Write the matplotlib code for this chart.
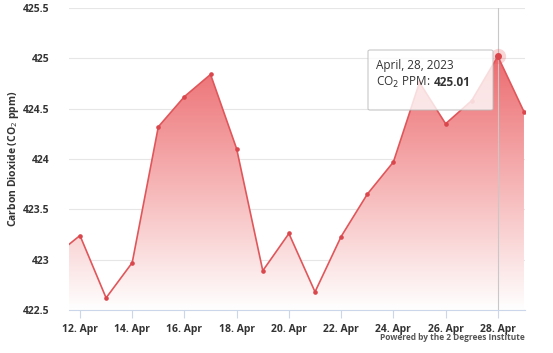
import numpy as np
import matplotlib.pyplot as plt
from matplotlib.colors import LinearSegmentedColormap
from matplotlib.patches import FancyBboxPatch

# daily CO2 readings, April 2023 (day of month)
days = [11, 12, 13, 14, 15, 16, 17, 18, 19, 20, 21, 22, 23, 24, 25, 26, 27, 28, 29]
ppm = [423.03, 423.24, 422.62, 422.97, 424.32, 424.62, 424.84, 424.10, 422.89,
       423.26, 422.68, 423.23, 423.65, 423.97, 424.76, 424.35, 424.58, 425.02, 424.47]
tick_days = [12, 14, 16, 18, 20, 22, 24, 26, 28]
tick_labels = ["12. Apr", "14. Apr", "16. Apr", "18. Apr", "20. Apr",
               "22. Apr", "24. Apr", "26. Apr", "28. Apr"]
y_ticks = [422.5, 423, 423.5, 424, 424.5, 425, 425.5]
y_labels = ["422.5", "423", "423.5", "424", "424.5", "425", "425.5"]
hover_day = 28
hover_text = "April, 28, 2023"
hover_value = "425.01"

plt.rcParams['font.family'] = ['Open Sans', 'DejaVu Sans']

fig = plt.figure(figsize=(5.53, 3.53), dpi=100)
ax = fig.add_axes([69 / 553, 43 / 353, 456 / 553, 302 / 353])
xmin, xmax = 11.58, 29.04
ymin, ymax = 422.5, 425.5
ax.set_xlim(xmin, xmax)
ax.set_ylim(ymin, ymax)

# gradient area under the line
fill = ax.fill_between(days, ppm, ymin, color="none", lw=0)
cmap = LinearSegmentedColormap.from_list("co2", ["#ffffff", "#f6b4b5", "#ec6c70"])
grad = np.linspace(0, 1, 256).reshape(-1, 1)
img = ax.imshow(grad, cmap=cmap, aspect="auto", origin="lower",
                extent=[xmin, xmax, ymin, max(ppm)], zorder=1)
img.set_clip_path(fill.get_paths()[0], transform=ax.transData)

ax.plot(days, ppm, color="#e0575b", lw=1.2, zorder=3)
ax.plot(days, ppm, "o", color="#d9474c", ms=2.3, zorder=4)

# hover highlight
hi = days.index(hover_day)
ax.axvline(hover_day, color="#c8c8c8", lw=0.8, zorder=2)
ax.plot(days[hi], ppm[hi], "o", color="#e9585d", ms=11, alpha=0.25, mec="none", zorder=4)
ax.plot(days[hi], ppm[hi], "o", color="#d9474c", ms=4, zorder=5)

ax.set_yticks(y_ticks)
ax.set_yticklabels(y_labels)
ax.set_xticks(tick_days)
ax.set_xticklabels(tick_labels)
ax.tick_params(axis="y", length=0, pad=14, labelsize=7.5, labelcolor="#333333")
ax.tick_params(axis="x", length=6, width=0.8, color="#ccd6eb", pad=4,
               labelsize=7.5, labelcolor="#333333")
for lbl in ax.get_xticklabels() + ax.get_yticklabels():
    lbl.set_fontweight("bold")
ax.grid(axis="y", color="#e6e6e6", lw=0.8, zorder=0)
for s in ["top", "right", "left"]:
    ax.spines[s].set_visible(False)
ax.spines["bottom"].set_color("#ccd6eb")
ax.set_axisbelow(True)

ax.set_ylabel("Carbon Dioxide (CO$_2$ ppm)", fontsize=7.5, fontweight="bold",
              color="#333333", va="center")
ax.yaxis.set_label_coords(-(69 - 14) / 456, 0.5)

# tooltip
box = FancyBboxPatch((368 / 553, 1 - 110 / 353), 125 / 553, 60 / 353,
                     boxstyle="round,pad=0,rounding_size=0.004",
                     transform=fig.transFigure, facecolor="white", alpha=0.8,
                     edgecolor="#bbbbbb", lw=0.8, zorder=10)
fig.patches.append(box)
fig.text(376 / 553, 1 - 66 / 353, hover_text, fontsize=8.5, color="#333333",
         va="center", zorder=11)
t = fig.text(376 / 553, 1 - 82 / 353, "CO$_2$ PPM:", fontsize=8.5, color="#333333",
             va="center", zorder=11)
fig.canvas.draw()
bb = t.get_window_extent()
fig.text((bb.x1 + 3) / fig.bbox.width, 1 - 82 / 353, hover_value, fontsize=8.5,
         fontweight="bold", color="#333333", va="center", zorder=11)

fig.text(525 / 553, 1 - 338 / 353, "Powered by the 2 Degrees Institute",
         fontsize=6, fontweight="bold", color="#555555", ha="right", va="center")

fig.savefig("out.png", dpi=100)
